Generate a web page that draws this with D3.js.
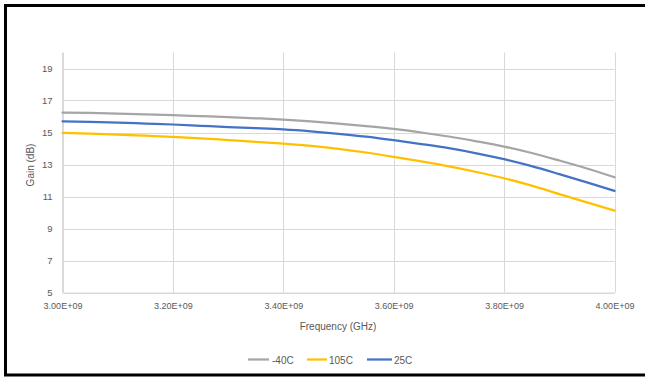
<!DOCTYPE html>
<html>
<head>
<meta charset="utf-8">
<script src="https://cdn.jsdelivr.net/npm/d3@7/dist/d3.min.js"></script>
<style>
  html, body { margin: 0; padding: 0; background: #fff; }
  svg { display: block; }
  text { font-family: "Liberation Sans", Arial, sans-serif; fill: #595959; }
</style>
</head>
<body>
<svg id="chart" width="645" height="377"></svg>
<script>
// Frequency in Hz
const freqs = [3.00e9, 3.05e9, 3.10e9, 3.15e9, 3.20e9, 3.25e9, 3.30e9, 3.35e9, 3.40e9, 3.45e9,
               3.50e9, 3.55e9, 3.60e9, 3.65e9, 3.70e9, 3.75e9, 3.80e9, 3.85e9, 3.90e9, 3.95e9, 4.00e9];
const gainM40 = [16.24, 16.22, 16.18, 16.13, 16.08, 16.02, 15.96, 15.89, 15.81, 15.70,
                 15.56, 15.40, 15.22, 15.00, 14.75, 14.45, 14.12, 13.72, 13.25, 12.75, 12.20];
const gain105 = [14.98, 14.93, 14.87, 14.80, 14.73, 14.64, 14.53, 14.42, 14.30, 14.16,
                 13.98, 13.75, 13.48, 13.19, 12.88, 12.53, 12.14, 11.68, 11.15, 10.63, 10.12];
const gain25  = [15.70, 15.66, 15.62, 15.56, 15.50, 15.42, 15.34, 15.27, 15.19, 15.07,
                 14.92, 14.74, 14.52, 14.28, 14.02, 13.70, 13.33, 12.90, 12.40, 11.88, 11.35];
const seriesNames = ["-40C", "105C", "25C"];
const seriesColors = ["#A5A5A5", "#FFC000", "#4472C4"];
const xTicks = [3.0e9, 3.2e9, 3.4e9, 3.6e9, 3.8e9, 4.0e9];
const xTickLabels = ["3.00E+09", "3.20E+09", "3.40E+09", "3.60E+09", "3.80E+09", "4.00E+09"];
const yTicks = [5, 7, 9, 11, 13, 15, 17, 19];
const xTitle = "Frequency (GHz)";
const yTitle = "Gain (dB)";

const svg = d3.select("#chart");
const W = 645, H = 377;

const x = d3.scaleLinear().domain([3.0e9, 4.0e9]).range([62.5, 614.5]);
const y = d3.scaleLinear().domain([5, 20]).range([292.5, 52.5]);

// gridlines
const grid = svg.append("g");
grid.selectAll("line.v").data(xTicks).join("line")
  .attr("x1", d => Math.round(x(d)) + 0.5).attr("x2", d => Math.round(x(d)) + 0.5)
  .attr("y1", y(20)).attr("y2", y(5))
  .attr("stroke", "#D9D9D9").attr("stroke-width", 1);
grid.selectAll("line.h").data(yTicks).join("line")
  .attr("x1", x(3.0e9)).attr("x2", x(4.0e9))
  .attr("y1", d => Math.round(y(d)) + 0.5).attr("y2", d => Math.round(y(d)) + 0.5)
  .attr("stroke", "#D9D9D9").attr("stroke-width", 1);

// axes (labels via d3 axis)
const xAxis = d3.axisBottom(x).tickValues(xTicks).tickFormat((d, i) => xTickLabels[i]).tickSize(0).tickPadding(10);
const gx = svg.append("g").attr("transform", `translate(0,${y(5)})`).call(xAxis);
gx.select(".domain").attr("stroke", "#D9D9D9");
gx.selectAll("text").style("font-size", "9px").attr("fill", "#595959");

const yAxis = d3.axisLeft(y).tickValues(yTicks).tickFormat(d3.format("d")).tickSize(0).tickPadding(10);
const gy = svg.append("g").attr("transform", `translate(${x(3.0e9)},0)`).call(yAxis);
gy.select(".domain").remove();
gy.selectAll("text").style("font-size", "9.5px").attr("fill", "#595959");
svg.append("line").attr("x1", x(3.0e9)).attr("x2", x(3.0e9)).attr("y1", y(20)).attr("y2", y(5))
  .attr("stroke", "#D9D9D9");

// series
const allSeries = [gainM40, gain105, gain25];
const line = d3.line().x((d, i) => x(freqs[i])).y(d => y(d)).curve(d3.curveMonotoneX);
allSeries.forEach((s, k) => {
  svg.append("path").datum(s).attr("d", line)
    .attr("fill", "none").attr("stroke", seriesColors[k]).attr("stroke-width", 2.25)
    .attr("stroke-linejoin", "round").attr("stroke-linecap", "round");
});

// axis titles
svg.append("text").attr("x", 338).attr("y", 330).attr("text-anchor", "middle")
  .style("font-size", "10px").text(xTitle);
svg.append("text").attr("transform", "translate(34,165) rotate(-90)").attr("text-anchor", "middle")
  .style("font-size", "10px").text(yTitle);

// legend
const legendItems = [
  {x1: 248, x2: 269, tx: 272},
  {x1: 307, x2: 327, tx: 329},
  {x1: 367, x2: 392, tx: 394}
];
legendItems.forEach((it, k) => {
  svg.append("line").attr("x1", it.x1).attr("x2", it.x2).attr("y1", 359.5).attr("y2", 359.5)
    .attr("stroke", seriesColors[k]).attr("stroke-width", 2.25);
  svg.append("text").attr("x", it.tx).attr("y", 363.5).style("font-size", "10px").text(seriesNames[k]);
});

// frame (black, left/top/bottom)
svg.append("path")
  .attr("d", `M${W},5.5 L5.5,5.5 L5.5,375 L${W},375`)
  .attr("fill", "none").attr("stroke", "#000").attr("stroke-width", 3);
</script>
</body>
</html>
